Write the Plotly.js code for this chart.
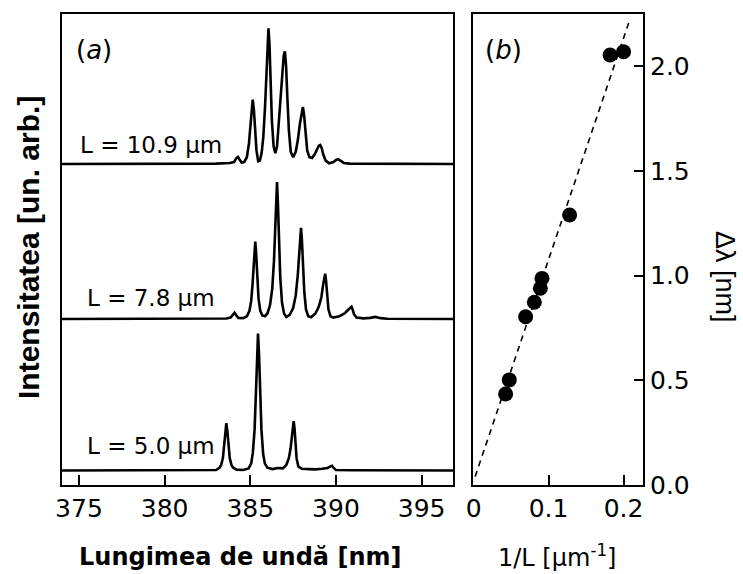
<!DOCTYPE html>
<html>
<head>
<meta charset="utf-8">
<script src="https://cdn.plot.ly/plotly-3.0.1.min.js"></script>
<style>html,body{margin:0;padding:0;background:#fff;}#chart{width:743px;height:574px;}</style>
</head>
<body>
<div id="chart"></div>
<script>
// ---- Spectra (wavelength in nm, normalised intensity) ----
const wl5 = [374.0,380.0,383.0,383.2,383.3,383.4,383.48,383.54,383.6,383.66,383.72,383.8,383.9,384.0,384.2,384.6,384.9,385.05,385.15,385.25,385.33,385.39,385.45,385.51,385.57,385.65,385.75,385.85,386.0,386.3,386.6,386.9,387.1,387.25,387.35,387.43,387.49,387.53,387.58,387.63,387.7,387.8,388.0,388.4,388.8,389.2,389.5,389.7,389.77,389.85,390.0,391.0,396.9];
const int5 = [0.0,0.0,0.003,0.02,0.04,0.09,0.19,0.29,0.346,0.29,0.19,0.09,0.04,0.02,0.006,0.004,0.015,0.05,0.13,0.3,0.57,0.85,1.0,0.85,0.57,0.3,0.12,0.05,0.02,0.01,0.018,0.015,0.04,0.09,0.16,0.26,0.33,0.36,0.31,0.2,0.09,0.03,0.012,0.01,0.008,0.012,0.018,0.032,0.035,0.02,0.004,0.002,0.0];

const wl78 = [374.0,383.6,383.85,384.0,384.08,384.16,384.3,384.6,384.8,384.95,385.05,385.13,385.2,385.25,385.29,385.34,385.4,385.48,385.58,385.7,385.85,386.0,386.15,386.28,386.38,386.46,386.52,386.56,386.61,386.67,386.75,386.85,386.97,387.1,387.3,387.5,387.65,387.77,387.86,387.92,387.96,388.01,388.07,388.15,388.25,388.38,388.55,388.8,389.0,389.15,389.25,389.32,389.37,389.42,389.48,389.56,389.68,389.85,390.2,390.5,390.7,390.85,390.91,390.97,391.05,391.2,391.6,392.0,392.3,392.6,393.0,396.9];
const int78 = [0.0,0.003,0.01,0.035,0.046,0.03,0.008,0.006,0.02,0.06,0.13,0.25,0.4,0.5,0.565,0.48,0.32,0.15,0.06,0.025,0.02,0.04,0.1,0.22,0.42,0.7,0.9,1.0,0.85,0.58,0.3,0.12,0.04,0.015,0.03,0.08,0.17,0.32,0.5,0.62,0.665,0.58,0.4,0.2,0.07,0.02,0.012,0.04,0.09,0.16,0.25,0.31,0.33,0.28,0.17,0.07,0.02,0.01,0.02,0.04,0.065,0.085,0.089,0.07,0.035,0.01,0.004,0.008,0.015,0.006,0.002,0.0];

const wl109 = [374.0,378.0,383.0,383.8,384.05,384.2,384.28,384.36,384.5,384.65,384.8,384.92,385.0,385.07,385.14,385.21,385.28,385.36,385.46,385.56,385.66,385.76,385.86,385.94,386.0,386.06,386.12,386.18,386.26,386.36,386.46,386.56,386.66,386.76,386.86,386.95,387.02,387.09,387.16,387.25,387.36,387.5,387.65,387.78,387.9,388.0,388.07,388.14,388.22,388.32,388.45,388.6,388.75,388.9,389.0,389.08,389.16,389.26,389.4,389.6,389.85,390.0,390.13,390.26,390.45,390.8,391.5,396.9];
const int109 = [0.0,0.0,0.003,0.008,0.015,0.045,0.052,0.035,0.01,0.015,0.05,0.15,0.27,0.4,0.475,0.4,0.25,0.1,0.02,0.025,0.08,0.2,0.42,0.7,0.9,1.0,0.88,0.62,0.32,0.13,0.08,0.13,0.3,0.52,0.7,0.8,0.83,0.72,0.5,0.25,0.09,0.05,0.09,0.18,0.3,0.39,0.42,0.36,0.22,0.1,0.05,0.045,0.07,0.11,0.135,0.14,0.12,0.07,0.025,0.006,0.015,0.03,0.035,0.025,0.008,0.003,0.002,0.0];

const specLabels = ["L = 5.0 \u03bcm", "L = 7.8 \u03bcm", "L = 10.9 \u03bcm"];

// ---- Panel (b): spacing vs 1/L ----
const invL = [0.0427, 0.0476, 0.0694, 0.081, 0.089, 0.0912, 0.128, 0.182, 0.2];
const dLam = [0.435, 0.502, 0.804, 0.873, 0.94, 0.987, 1.29, 2.054, 2.07];
const fitX = [0.002, 0.208];
const fitY = [0.04, 2.22];

const xTicks = [375, 380, 385, 390, 395];
const x2Ticks = [0, 0.1, 0.2];
const x2TickText = ["0", "0.1", "0.2"];
const y2Ticks = [0.0, 0.5, 1.0, 1.5, 2.0];

// vertical offsets of the stacked spectra (layout only)
const off = [0, 1.106, 2.237];
const scale = [1.0, 1.0, 0.99];
function shift(arr, k){ return arr.map(v => v*scale[k] + off[k]); }

const W = 743, H = 574;
const px = x => x / W;
const py = y => (H - y) / H;

const lineStyle = {color: '#000', width: 2.6};
const traces = [
  {x: wl5, y: shift(int5,0), xaxis:'x', yaxis:'y', mode:'lines', line: lineStyle, hoverinfo:'skip'},
  {x: wl78, y: shift(int78,1), xaxis:'x', yaxis:'y', mode:'lines', line: lineStyle, hoverinfo:'skip'},
  {x: wl109, y: shift(int109,2), xaxis:'x', yaxis:'y', mode:'lines', line: lineStyle, hoverinfo:'skip'},
  {x: fitX, y: fitY, xaxis:'x2', yaxis:'y2', mode:'lines', line:{color:'#000', width:1.6, dash:'6px,5px'}, hoverinfo:'skip'},
  {x: invL, y: dLam, xaxis:'x2', yaxis:'y2', mode:'markers', marker:{color:'#000', size:15}, hoverinfo:'skip'}
];

const tickFont = {family: 'DejaVu Sans', size: 25, color: '#000'};
const axCommon = {showgrid:false, zeroline:false, showline:true, linecolor:'#000', linewidth:2, mirror:true, fixedrange:true};

const ann = [];
function addAnn(text, x, y, opts){
  ann.push(Object.assign({text: text, xref:'paper', yref:'paper', x: px(x), y: py(y), showarrow:false,
    xanchor:'center', yanchor:'middle', font:{family:'DejaVu Sans', size:23, color:'#000'}}, opts||{}));
}
addAnn('(<i>a</i>)', 94, 50, {font:{family:'DejaVu Sans', size:26, color:'#000'}});
addAnn('(<i>b</i>)', 503, 50, {font:{family:'DejaVu Sans', size:26, color:'#000'}});
addAnn(specLabels[2], 78, 145, {xanchor:'left'});
addAnn(specLabels[1], 85, 298, {xanchor:'left'});
addAnn(specLabels[0], 85, 446, {xanchor:'left'});
addAnn('<b>Lungimea de undă [nm]</b>', 240, 557, {font:{family:'DejaVu Sans', size:24, color:'#000'}});
addAnn('1/L [\u03bcm<sup>-1</sup>]', 557, 556, {font:{family:'DejaVu Sans', size:24, color:'#000'}});
addAnn('<b>Intensitatea [un. arb.]</b>', 28, 248, {textangle:-90, font:{family:'Liberation Sans', size:30, color:'#000'}});
addAnn('\u0394\u03bb [nm]', 725, 277, {textangle:90, font:{family:'Liberation Sans', size:27, color:'#000'}});

const layout = {
  width: W, height: H,
  margin: {l:0, r:0, t:0, b:0},
  paper_bgcolor:'#fff', plot_bgcolor:'#fff',
  showlegend:false,
  xaxis: Object.assign({}, axCommon, {domain:[px(62), px(453)], range:[374.01, 396.83], anchor:'y',
    tickmode:'array', tickvals:xTicks, ticks:'inside', ticklen:10, tickwidth:2, tickcolor:'#000', tickfont:tickFont}),
  yaxis: Object.assign({}, axCommon, {domain:[py(485), py(14)], range:[-0.106, 3.332], anchor:'x',
    showticklabels:false, ticks:''}),
  xaxis2: Object.assign({}, axCommon, {domain:[px(473), px(643)], range:[-0.0008, 0.2259], anchor:'y2',
    tickmode:'array', tickvals:x2Ticks, ticktext:x2TickText, ticks:'inside', ticklen:10, tickwidth:2, tickcolor:'#000', tickfont:tickFont}),
  yaxis2: Object.assign({}, axCommon, {domain:[py(485), py(14)], range:[0, 2.25], anchor:'x2', side:'right',
    tickmode:'array', tickvals:y2Ticks, tickformat:'.1f', ticks:'inside', ticklen:9, tickwidth:2, tickcolor:'#000', tickfont:tickFont}),
  annotations: ann
};

Plotly.newPlot('chart', traces, layout, {staticPlot:true, displayModeBar:false});
</script>
</body>
</html>
